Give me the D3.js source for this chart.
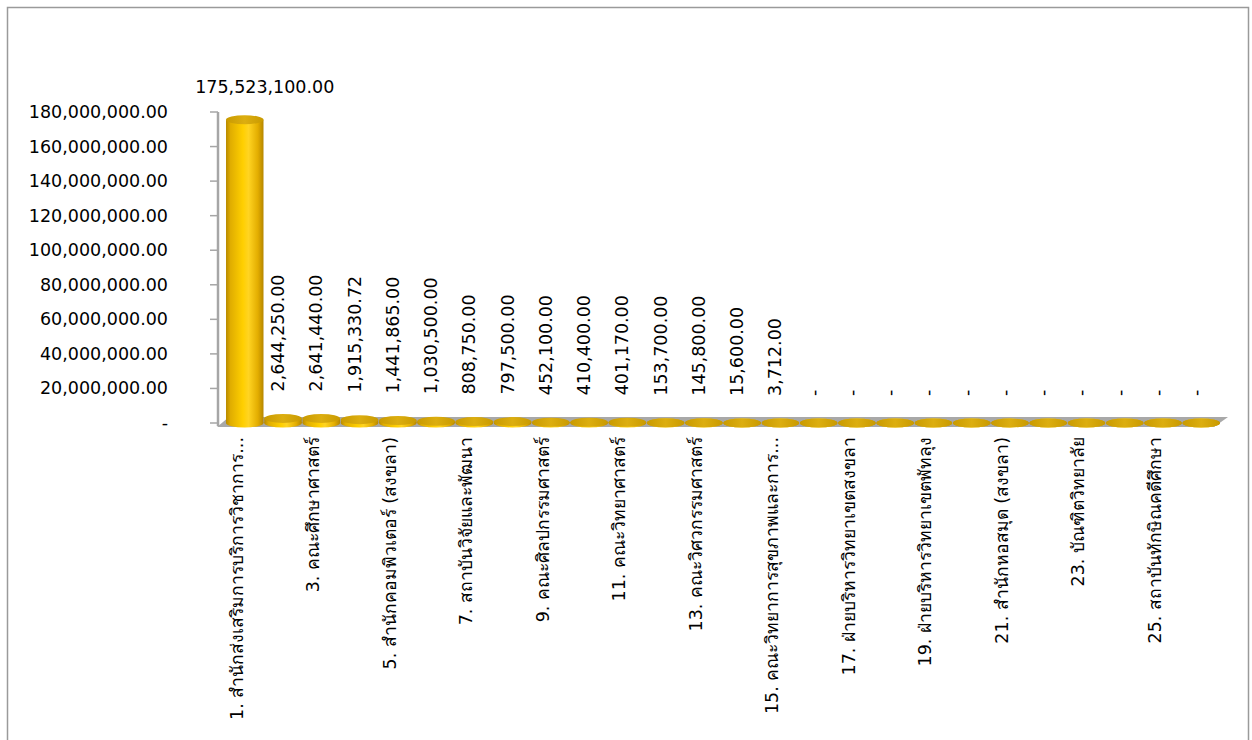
<!DOCTYPE html>
<html>
<head>
<meta charset="utf-8">
<script src="https://cdn.jsdelivr.net/npm/d3@7"></script>
<style>
  html, body { margin: 0; padding: 0; background: #fff; }
  svg { display: block; }
  text { font-family: "DejaVu Sans", "Noto Sans", sans-serif; fill: #000; }
</style>
</head>
<body>
<svg id="chart" width="1252" height="740"></svg>
<script>
// ---------- data ----------
const categories = [
  "1. สำนักส่งเสริมการบริการวิชาการ...",
  "2. คณะมนุษยศาสตร์และสังคมศาสตร์",
  "3. คณะศึกษาศาสตร์",
  "4. คณะเศรษฐศาสตร์และบริหารธุรกิจ",
  "5. สำนักคอมพิวเตอร์ (สงขลา)",
  "6. คณะนิติศาสตร์",
  "7. สถาบันวิจัยและพัฒนา",
  "8. สำนักงานอธิการบดี",
  "9. คณะศิลปกรรมศาสตร์",
  "10. วิทยาลัยการจัดการเพื่อการพัฒนา",
  "11. คณะวิทยาศาสตร์",
  "12. คณะพยาบาลศาสตร์",
  "13. คณะวิศวกรรมศาสตร์",
  "14. คณะเทคโนโลยีและการพัฒนาชุมชน",
  "15. คณะวิทยาการสุขภาพและการ...",
  "16. สำนักคอมพิวเตอร์ (พัทลุง)",
  "17. ฝ่ายบริหารวิทยาเขตสงขลา",
  "18. สำนักหอสมุด (พัทลุง)",
  "19. ฝ่ายบริหารวิทยาเขตพัทลุง",
  "20. วิทยาลัยภูมิปัญญาชุมชน",
  "21. สำนักหอสมุด (สงขลา)",
  "22. สำนักวิชาการศึกษาทั่วไป",
  "23. บัณฑิตวิทยาลัย",
  "24. สำนักงานสภามหาวิทยาลัย",
  "25. สถาบันทักษิณคดีศึกษา",
  "26. ฝ่ายบริหารทรัพย์สิน"
];
const values = [
  175523100.00, 2644250.00, 2641440.00, 1915330.72, 1441865.00, 1030500.00,
  808750.00, 797500.00, 452100.00, 410400.00, 401170.00, 153700.00,
  145800.00, 15600.00, 3712.00,
  0, 0, 0, 0, 0, 0, 0, 0, 0, 0, 0
];
const yTicks = [0, 20000000, 40000000, 60000000, 80000000, 100000000,
                120000000, 140000000, 160000000, 180000000];

// ---------- helpers ----------
const fmt = d3.format(",.2f");
const label = v => v === 0 ? "-" : fmt(v);

const svg = d3.select("#chart");

// outer border
svg.append("rect")
  .attr("x", 7.5).attr("y", 7.5).attr("width", 1241).attr("height", 760)
  .attr("fill", "#fff").attr("stroke", "#9a9a9a").attr("stroke-width", 1.5);

const x = d3.scaleBand().domain(categories).range([226, 1220]).paddingInner(0.02).paddingOuter(0);
const y = d3.scaleLinear().domain([0, 180000000]).range([423, 112]);

// gradients
const defs = svg.append("defs");
const gBody = defs.append("linearGradient").attr("id", "gBody").attr("x1", "0").attr("x2", "1").attr("y1", "0").attr("y2", "0");
[["0%", "#b88a00"], ["12%", "#e0ad00"], ["45%", "#ffcf00"], ["60%", "#ffd422"], ["85%", "#e3ad00"], ["100%", "#b58600"]]
  .forEach(([o, c]) => gBody.append("stop").attr("offset", o).attr("stop-color", c));
const gTop = defs.append("linearGradient").attr("id", "gTop").attr("x1", "0").attr("x2", "1").attr("y1", "0").attr("y2", "0");
[["0%", "#c99a00"], ["50%", "#dcae10"], ["100%", "#c99a00"]]
  .forEach(([o, c]) => gTop.append("stop").attr("offset", o).attr("stop-color", c));

// floor
const fx0 = 217, fx1 = 1228, fy = y(0);
svg.append("polygon")
  .attr("points", [[fx0, fy + 4], [fx1 - 14, fy + 4], [fx1, fy - 6], [fx0 + 12, fy - 6]].map(p => p.join(",")).join(" "))
  .attr("fill", "#a8a8a8");

// y axis
const axisX = 218;
svg.append("line").attr("x1", axisX).attr("x2", axisX).attr("y1", y(180000000)).attr("y2", y(0) + 3)
  .attr("stroke", "#a6a6a6").attr("stroke-width", 2.5);
const tickG = svg.append("g");
tickG.selectAll("line").data(yTicks).join("line")
  .attr("x1", 210).attr("x2", axisX).attr("y1", d => y(d)).attr("y2", d => y(d))
  .attr("stroke", "#a6a6a6").attr("stroke-width", 1.5);
tickG.selectAll("text").data(yTicks).join("text")
  .attr("x", 168).attr("y", d => y(d) + 1).attr("text-anchor", "end")
  .attr("dominant-baseline", "middle").attr("font-size", 17.5)
  .text(d => label(d));

// bars (cylinders)
const ry = 4.5;
const bars = svg.append("g").selectAll("g").data(values.map((v, i) => ({ v, c: categories[i], i }))).join("g");
bars.append("ellipse")
  .attr("cx", d => x(d.c) + x.bandwidth() / 2).attr("cy", y(0))
  .attr("rx", x.bandwidth() / 2).attr("ry", ry).attr("fill", "url(#gBody)");
bars.append("rect")
  .attr("x", d => x(d.c)).attr("width", x.bandwidth())
  .attr("y", d => y(d.v)).attr("height", d => y(0) - y(d.v))
  .attr("fill", "url(#gBody)");
bars.append("ellipse")
  .attr("cx", d => x(d.c) + x.bandwidth() / 2).attr("cy", d => y(d.v))
  .attr("rx", x.bandwidth() / 2).attr("ry", ry).attr("fill", "url(#gTop)");

// value labels
const vl = svg.append("g");
vl.selectAll("text").data(values.map((v, i) => ({ v, c: categories[i], i }))).join("text")
  .attr("font-size", 17.5)
  .attr("transform", d => {
    const cx = x(d.c) + x.bandwidth() / 2;
    if (d.i === 0) return `translate(${cx + 20},${y(d.v) - 32})`;
    return `translate(${cx - 4},${y(d.v) - 27}) rotate(-90)`;
  })
  .attr("text-anchor", d => d.i === 0 ? "middle" : "start")
  .attr("dominant-baseline", "middle")
  .text(d => label(d.v));

// category labels (every other one shown)
const cl = svg.append("g");
cl.selectAll("text").data(categories.filter((c, i) => i % 2 === 0)).join("text")
  .attr("font-size", 17.5)
  .attr("transform", d => `translate(${x(d) + x.bandwidth() / 2 - 7},437) rotate(-90)`)
  .attr("text-anchor", "end")
  .attr("dominant-baseline", "middle")
  .text(d => d);
</script>
</body>
</html>
